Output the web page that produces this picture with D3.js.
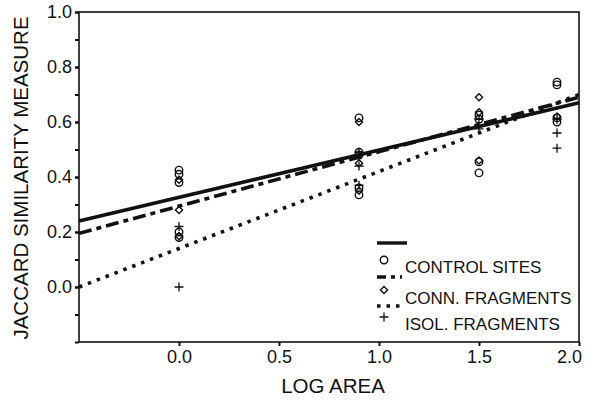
<!DOCTYPE html>
<html>
<head>
<meta charset="utf-8">
<script src="https://cdn.jsdelivr.net/npm/d3@7"></script>
<style>
  body { margin: 0; background: #fff; }
  text { font-family: "Liberation Sans", Arial, sans-serif; fill: #111; }
</style>
</head>
<body>
<div id="chart"></div>
<script>
// data
const xTicks = [0.0, 0.5, 1.0, 1.5, 2.0];
const xTickLabels = ["0.0", "0.5", "1.0", "1.5", "2.0"];
const yTicks = [0.0, 0.2, 0.4, 0.6, 0.8, 1.0];
const yTickLabels = ["0.0", "0.2", "0.4", "0.6", "0.8", "1.0"];
const yMinorTicks = [-0.2, -0.1, 0.0, 0.1, 0.2, 0.3, 0.4, 0.5, 0.6, 0.7, 0.8, 0.9, 1.0];

// control sites (circles)
const controlX = [0, 0, 0, 0, 0, 0.9, 0.9, 0.9, 0.9, 0.9, 1.5, 1.5, 1.5, 1.5, 1.89, 1.89, 1.89, 1.89];
const controlY = [0.425, 0.41, 0.38, 0.20, 0.18, 0.615, 0.49, 0.48, 0.36, 0.335, 0.625, 0.61, 0.455, 0.415, 0.745, 0.735, 0.615, 0.60];
// connected fragments (diamonds)
const connX = [0, 0, 0, 0.9, 0.9, 0.9, 1.5, 1.5, 1.5, 1.89];
const connY = [0.39, 0.28, 0.185, 0.60, 0.45, 0.35, 0.69, 0.635, 0.46, 0.62];
// isolated fragments (plus)
const isolX = [0, 0, 0.9, 0.9, 0.9, 1.5, 1.5, 1.89, 1.89, 1.89];
const isolY = [0.22, 0.0, 0.49, 0.44, 0.37, 0.61, 0.575, 0.61, 0.56, 0.505];

// regression lines, values at the ends of the x range
const fitX = [-0.5, 2.0];
const controlFit = [0.24, 0.67];
const connFit = [0.195, 0.69];
const isolFit = [0.0, 0.70];

const legendLabels = ["CONTROL SITES", "CONN. FRAGMENTS", "ISOL. FRAGMENTS"];

// set the dimensions
const width = 590, height = 410;
const margin = {left: 79, right: 579, top: 12, bottom: 342};

const svg = d3.select("#chart")
  .append("svg")
    .attr("width", width)
    .attr("height", height);

const x = d3.scaleLinear().domain([-0.5, 2.0]).range([margin.left, margin.right]);
const y = d3.scaleLinear().domain([-0.2, 1.0]).range([margin.bottom, margin.top]);

// frame
svg.append("rect")
  .attr("x", margin.left).attr("y", margin.top)
  .attr("width", margin.right - margin.left).attr("height", margin.bottom - margin.top)
  .attr("fill", "none")
  .attr("stroke", "#111")
  .attr("stroke-width", 1.6);

// Y axis: minor ticks, then labels
svg.append("g")
  .attr("transform", `translate(${margin.left},0)`)
  .call(d3.axisLeft(y).tickValues(yMinorTicks).tickSize(4).tickSizeOuter(0).tickFormat(""))
  .call(g => g.select(".domain").remove())
  .call(g => g.selectAll("line").attr("stroke", "#111").attr("stroke-width", 2));

svg.append("g")
  .attr("transform", `translate(${margin.left},0)`)
  .call(d3.axisLeft(y).tickValues(yTicks).tickSize(4).tickPadding(3)
    .tickFormat((d, i) => yTickLabels[i]))
  .call(g => g.select(".domain").remove())
  .call(g => g.selectAll("line").attr("stroke", "#111").attr("stroke-width", 2))
  .call(g => g.selectAll("text").attr("font-size", 18).attr("fill", "#111")
    .attr("font-family", "Liberation Sans, Arial, sans-serif"));

// X axis (last label pulled in from the edge, as in the original)
svg.append("g")
  .attr("transform", `translate(0,${margin.bottom})`)
  .call(d3.axisBottom(x).tickValues(xTicks).tickSize(4).tickPadding(4)
    .tickFormat((d, i) => xTickLabels[i]))
  .call(g => g.select(".domain").remove())
  .call(g => g.selectAll("line").attr("stroke", "#111").attr("stroke-width", 2))
  .call(g => g.selectAll("text").attr("font-size", 18).attr("fill", "#111")
    .attr("font-family", "Liberation Sans, Arial, sans-serif")
    .attr("dx", (d, i) => i == xTicks.length - 1 ? -10 : 0));

// axis titles
svg.append("text")
  .attr("transform", "translate(28,178) rotate(-90)")
  .attr("text-anchor", "middle")
  .attr("font-size", 20.5)
  .text("JACCARD SIMILARITY MEASURE");

svg.append("text")
  .attr("x", 333).attr("y", 393)
  .attr("text-anchor", "middle")
  .attr("font-size", 20.5)
  .text("LOG AREA");

// regression lines
const line = d3.line()
  .x(function(d) { return x(d[0]) })
  .y(function(d) { return y(d[1]) });

const fits = [
  { vals: controlFit, dash: null },
  { vals: connFit, dash: "13,5,5,5" },
  { vals: isolFit, dash: "3.5,6" }
];
fits.forEach(function(f) {
  svg.append("path")
    .datum(fitX.map((v, i) => [v, f.vals[i]]))
    .attr("fill", "none")
    .attr("stroke", "#111")
    .attr("stroke-width", 3.6)
    .attr("stroke-dasharray", f.dash)
    .attr("d", line);
});

// markers
const circle = d3.symbol().type(d3.symbolCircle).size(44);
const diamond = d3.symbol().type(d3.symbolSquare).size(26);
const plus = "M-4.5,0H4.5M0,-4.5V4.5";

function drawCircle(g, cx, cy) {
  g.append("path").attr("d", circle())
    .attr("transform", `translate(${cx},${cy})`)
    .attr("fill", "none").attr("stroke", "#111").attr("stroke-width", 1.4);
}
function drawDiamond(g, cx, cy) {
  g.append("path").attr("d", diamond())
    .attr("transform", `translate(${cx},${cy}) rotate(45)`)
    .attr("fill", "none").attr("stroke", "#111").attr("stroke-width", 1.4);
}
function drawPlus(g, cx, cy) {
  g.append("path").attr("d", plus)
    .attr("transform", `translate(${cx},${cy})`)
    .attr("fill", "none").attr("stroke", "#111").attr("stroke-width", 1.3);
}

const pts = svg.append("g");
controlX.forEach((v, i) => drawCircle(pts, x(v), y(controlY[i])));
connX.forEach((v, i) => drawDiamond(pts, x(v), y(connY[i])));
isolX.forEach((v, i) => drawPlus(pts, x(v), y(isolY[i])));

// legend
const lg = svg.append("g");
const legendRows = [
  { lineY: 243, markY: 260, textY: 273, dash: null, len: 30, mark: drawCircle },
  { lineY: 277, markY: 290, textY: 304, dash: "9,5,4,5", len: 25, mark: drawDiamond },
  { lineY: 306, markY: 317, textY: 330, dash: "3.5,6", len: 25, mark: drawPlus }
];
legendRows.forEach(function(r, i) {
  lg.append("line")
    .attr("x1", 377).attr("x2", 377 + r.len)
    .attr("y1", r.lineY).attr("y2", r.lineY)
    .attr("stroke", "#111").attr("stroke-width", 3.4)
    .attr("stroke-dasharray", r.dash);
  r.mark(lg, 384, r.markY);
  lg.append("text")
    .attr("x", 405).attr("y", r.textY)
    .attr("font-size", 17)
    .text(legendLabels[i]);
});
</script>
</body>
</html>
